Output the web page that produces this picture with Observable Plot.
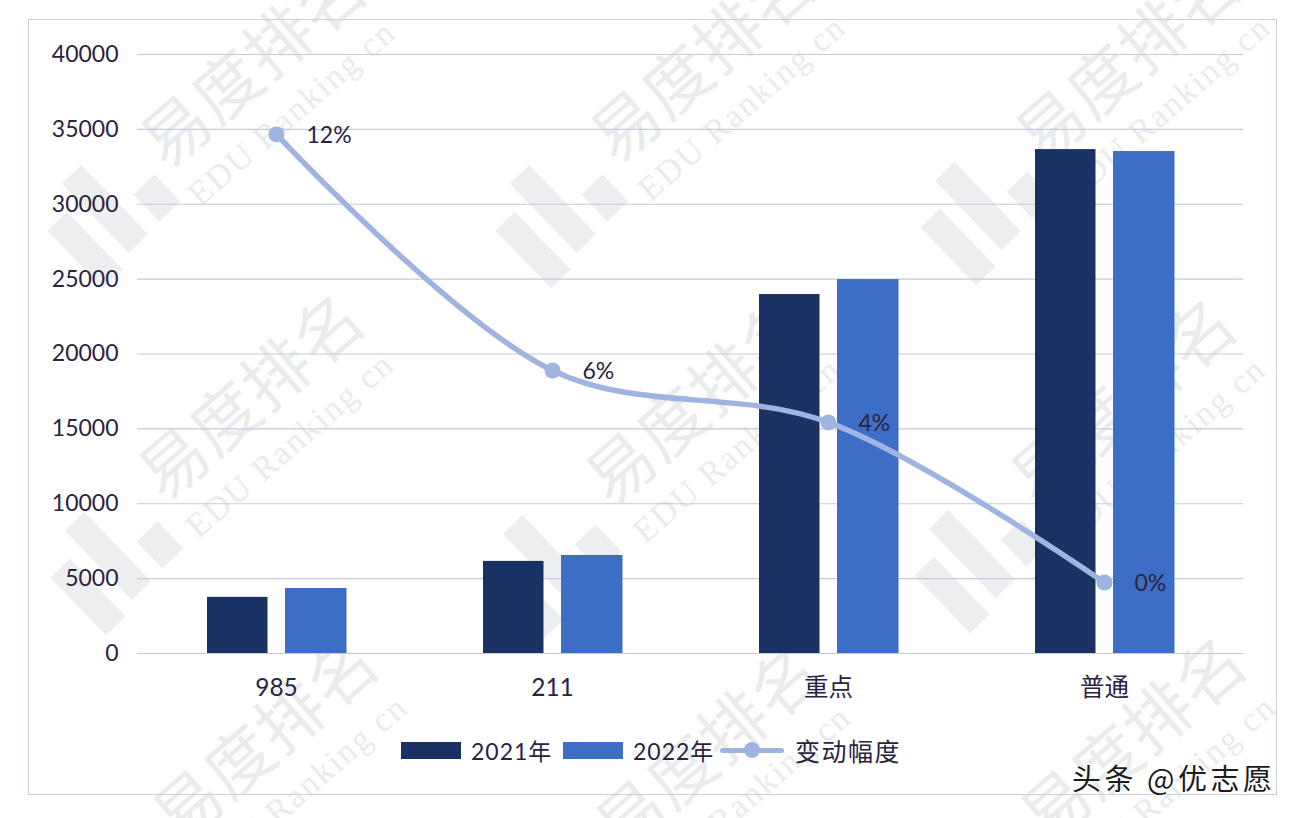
<!DOCTYPE html>
<html lang="zh">
<head>
<meta charset="utf-8">
<script src="https://cdn.jsdelivr.net/npm/d3@7"></script>
<script src="https://cdn.jsdelivr.net/npm/@observablehq/plot@0.6"></script>
<style>
  html, body { margin: 0; background: #fff; }
  #page { position: relative; width: 1300px; height: 818px; overflow: hidden;
          font-family: Lato, "Noto Sans CJK SC", sans-serif; color: #2a2440; }
  #wm, #frame, #stamp { position: absolute; }
  #wm { inset: 0; }
  #frame { left: 28px; top: 19px; width: 1249px; height: 776px; border: 1.5px solid #c9cfd6; box-sizing: border-box; }
  #chart { position: relative; }
  #chart svg { display: block; background: transparent; }
  .wt, .ws { position: absolute; white-space: nowrap; transform: translate(-50%, -50%) rotate(-41deg); }
  .wt { font: 400 67px "Noto Sans CJK SC", sans-serif; letter-spacing: 1px; color: #e9ebed; }
  .ws { font: 34px "Liberation Serif", serif; letter-spacing: 2px; color: #e9ebed; }
  .wb { position: absolute; background: #edeeef; transform: translate(-50%, -50%) rotate(46deg); }
  #legend { position: absolute; top: 733px; left: 401px; height: 34px; display: flex; align-items: center; font-size: 23px; }
  #legend i { display: block; }
  .swatch { width: 60px; height: 17px; margin-right: 10px; }
  .lab { width: 92px; letter-spacing: 1px; white-space: nowrap; }
  .lineSwatch { position: relative; width: 64px; height: 5px; margin: 0 11px 0 -5px; border-radius: 3px; }
  .lineSwatch b { position: absolute; left: 24px; top: -6px; width: 16px; height: 16px; border-radius: 50%; background: inherit; }
  .lab2 { font-size: 25px; letter-spacing: 1.5px; white-space: nowrap; }
  #stamp { left: 1072px; top: 757px; font: 400 29px "Noto Sans CJK SC", sans-serif; letter-spacing: 3.5px; color: #1c1c1c;
           text-shadow: 0 0 3px #fff, 0 0 3px #fff; white-space: nowrap; line-height: 40px; }
</style>
</head>
<body>
<div id="page">
  <div id="wm"></div>
  <div id="frame"></div>
  <div id="chart"></div>
  <div id="legend"></div>
  <div id="stamp">头条 @优志愿</div>
</div>
<script>
const categories = ["985", "211", "重点", "普通"];
const values2021 = [3750, 6150, 23970, 33650];
const values2022 = [4340, 6550, 24970, 33520];
const changeLevels = [34660, 18900, 15430, 4740];
const changeLabels = ["12%", "6%", "4%", "0%"];
const yTicks = [0, 5000, 10000, 15000, 20000, 25000, 30000, 35000, 40000];
const seriesNames = ["2021年", "2022年", "变动幅度"];
const colors = ["#1a3263", "#3c6ec6", "#9fb4e0"];
const textColor = "#2a2440";

const textCenters = [[250,60],[700,55],[1125,55],[248,392],[695,397],[1120,397],[262,735],[705,745],[1130,735]];
const logoCenters = [[115,228],[563,228],[988,225],[118,575],[556,578],[982,573]];

const wm = document.getElementById("wm");
function add(cls, x, y, txt, w, h) {
  const d = document.createElement("div");
  d.className = cls; d.style.left = x + "px"; d.style.top = y + "px";
  if (txt) d.textContent = txt;
  if (w) { d.style.width = w + "px"; d.style.height = h + "px"; }
  wm.appendChild(d);
}
textCenters.forEach(([x, y]) => {
  add("wt", x, y, "易度排名");
  add("ws", x + 42, y + 53, "EDU Ranking cn");
});
logoCenters.forEach(([x, y]) => {
  add("wb", x - 10, y - 19, "", 96, 27);
  add("wb", x - 30, y + 22, "", 80, 27);
  add("wb", x + 42, y - 30, "", 37, 29);
});

const rows = categories.map((c, i) => ({
  c, v21: values2021[i], v22: values2022[i], level: changeLevels[i], label: changeLabels[i]
}));

const chart = Plot.plot({
  width: 1300, height: 725,
  marginLeft: 137, marginRight: 57, marginTop: 54, marginBottom: 72,
  style: { fontFamily: 'Lato, "Noto Sans CJK SC", sans-serif', background: "transparent", overflow: "visible" },
  x: { domain: categories, padding: 0, label: null },
  y: { domain: [0, 40000], label: null },
  marks: [
    Plot.ruleY(yTicks, { stroke: "#c3cbd8", strokeWidth: 1.2 }),
    Plot.barY(rows, { x: "c", y: "v21", fill: colors[0], insetLeft: 69, insetRight: 146.5 }),
    Plot.barY(rows, { x: "c", y: "v22", fill: colors[1], insetLeft: 147, insetRight: 67.5 }),
    Plot.line(rows, { x: "c", y: "level", stroke: colors[2], strokeWidth: 5.5, curve: "catmull-rom" }),
    Plot.dot(rows, { x: "c", y: "level", r: 8, fill: colors[2] }),
    Plot.text(rows, { x: "c", y: "level", text: "label", dx: 30, dy: 1, textAnchor: "start", fontSize: 23, fill: textColor }),
    Plot.axisY({ ticks: yTicks, tickSize: 0, tickPadding: 19, tickFormat: d => String(d), fontSize: 23, fill: textColor, label: null, style: { letterSpacing: "0.4px" } }),
    Plot.axisX({ tickSize: 0, tickPadding: 25, fontSize: 24.5, fill: textColor, label: null })
  ]
});
document.getElementById("chart").appendChild(chart);

const legend = document.getElementById("legend");
legend.innerHTML =
  `<i class="swatch" style="background:${colors[0]}"></i><span class="lab">${seriesNames[0]}</span>` +
  `<i class="swatch" style="background:${colors[1]}"></i><span class="lab">${seriesNames[1]}</span>` +
  `<i class="lineSwatch" style="background:${colors[2]}"><b></b></i><span class="lab2">${seriesNames[2]}</span>`;
</script>
</body>
</html>
